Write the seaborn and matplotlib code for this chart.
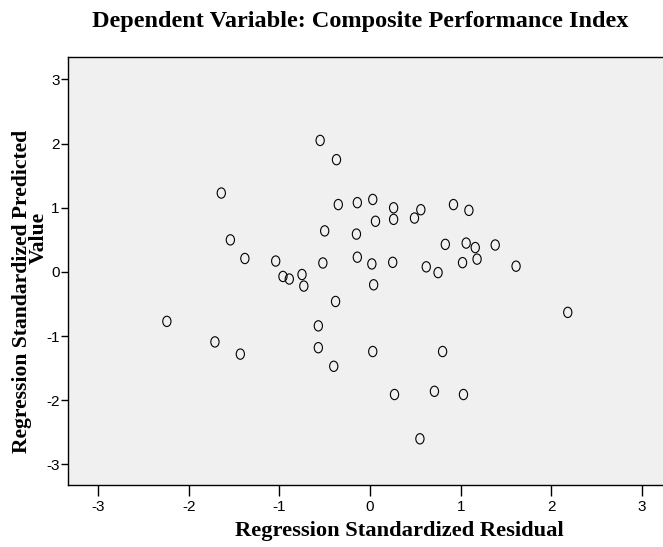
import matplotlib
matplotlib.use("Agg")
import matplotlib.pyplot as plt
from matplotlib.path import Path
from matplotlib.transforms import Affine2D
import numpy as np
import pandas as pd
import seaborn as sns

# Standardized residuals (x) and standardized predicted values (y)
residual = [
    -0.55, -0.37, -1.64, -0.35, -0.14, 0.03, 0.26, 0.56, 0.49, 0.92,
    1.09, 0.06, 0.26, -0.50, -0.15, -1.54, -1.38, -1.04, -0.96, -0.89,
    -0.75, -0.73, -0.52, -0.14, 0.02, 0.25, 0.04, 0.62, 0.75, 0.83,
    1.06, 1.16, 1.38, 1.02, 1.18, 1.61, -0.38, -2.24, 2.18, -0.57,
    -1.71, -1.43, -0.57, 0.03, 0.80, -0.40, 0.27, 0.71, 1.03, 0.55,
]
predicted = [
    2.05, 1.75, 1.23, 1.05, 1.08, 1.13, 1.00, 0.97, 0.84, 1.05,
    0.96, 0.79, 0.82, 0.64, 0.59, 0.50, 0.21, 0.17, -0.07, -0.11,
    -0.04, -0.22, 0.14, 0.23, 0.125, 0.15, -0.20, 0.08, -0.01, 0.43,
    0.45, 0.38, 0.42, 0.145, 0.20, 0.09, -0.46, -0.77, -0.63, -0.84,
    -1.09, -1.28, -1.18, -1.24, -1.24, -1.47, -1.91, -1.86, -1.91, -2.60,
]

title = "Dependent Variable: Composite Performance Index"
xlabel = "Regression Standardized Residual"
ylabel_1 = "Regression Standardized Predicted"
ylabel_2 = "Value"
ticks = [-3, -2, -1, 0, 1, 2, 3]

df = pd.DataFrame({"residual": residual, "predicted": predicted})

sns.set_style("white")
plt.rcParams["font.family"] = ["Liberation Sans", "DejaVu Sans"]
plt.rcParams["text.color"] = "black"

fig = plt.figure(figsize=(6.63, 5.47), dpi=100)
ax = fig.add_axes([68 / 663, 62 / 547, 1 - 68 / 663, (485 - 57) / 547])
ax.set_facecolor("#F0F0F0")

# slightly tall open ellipse, like the classic "o" marker
ellipse = Path.unit_circle().transformed(Affine2D().scale(0.8, 1.0))
sns.scatterplot(data=df, x="residual", y="predicted", ax=ax, marker=ellipse,
                s=55, facecolor="none", edgecolor="black", linewidth=0.8,
                legend=False)

ax.set_xlim(-3.33, 3.23)
ax.set_ylim(-3.32, 3.35)
ax.set_xticks(ticks)
ax.set_yticks(ticks)
ax.set_xticklabels([str(t) for t in ticks])
ax.set_yticklabels([str(t) for t in ticks])
ax.tick_params(axis="x", direction="out", length=8, width=1, pad=3,
               labelsize=11, colors="black", bottom=True)
ax.tick_params(axis="y", direction="out", length=5, width=1, pad=1,
               labelsize=11, colors="black", left=True)
for side in ["left", "bottom", "top"]:
    ax.spines[side].set_visible(True)
    ax.spines[side].set_color("black")
    ax.spines[side].set_linewidth(1.0)
ax.spines["right"].set_visible(False)
ax.set_xlabel("")
ax.set_ylabel("")

serif_bold = dict(family=["Liberation Serif", "DejaVu Serif"], weight="bold",
                  color="black")
fig.text(360 / 663, 1 - 22 / 547, title, ha="center", va="center",
         fontsize=17.5, **serif_bold)
fig.text(399 / 663, 1 - 531 / 547, xlabel, ha="center", va="center",
         fontsize=16.2, **serif_bold)
fig.text(22 / 663, 1 - 291 / 547, ylabel_1, ha="center", va="center",
         rotation=90, fontsize=15.6, **serif_bold)
fig.text(39 / 663, 1 - 238 / 547, ylabel_2, ha="center", va="center",
         rotation=90, fontsize=15.6, **serif_bold)

fig.savefig("out.png", dpi=100)
